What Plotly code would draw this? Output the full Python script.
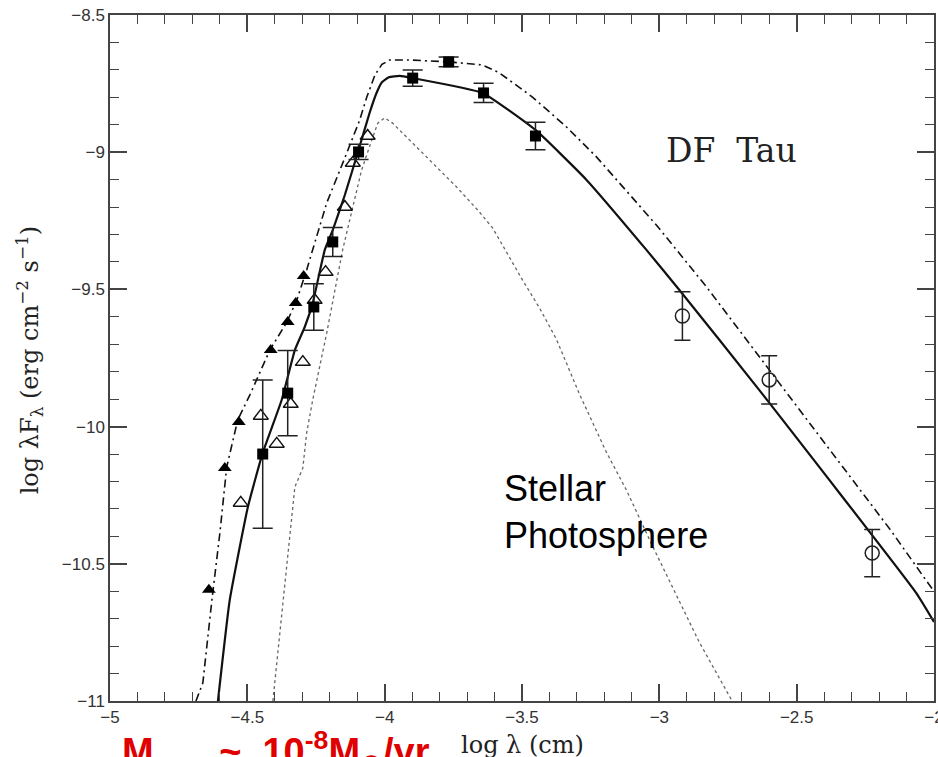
import plotly.graph_objects as go

# ---- model curves (log lambda [cm], log lambda F_lambda) ----
disk_x = [-4.607, -4.564, -4.498, -4.444, -4.375, -4.327, -4.291, -4.262, -4.218, -4.189,
          -4.145, -4.095, -4.055, -4.030, -4.010, -3.985, -3.945, -3.898, -3.644, -3.451,
          -3.265, -3.047, -2.927, -2.636, -2.065, -2.0]
disk_y = [-11.0, -10.632, -10.293, -10.096, -9.903, -9.721, -9.637, -9.550, -9.356, -9.284,
          -9.156, -8.992, -8.857, -8.785, -8.745, -8.727, -8.722, -8.730, -8.784, -8.919,
          -9.101, -9.356, -9.502, -9.867, -10.606, -10.712]

alt_x = [-4.687, -4.662, -4.629, -4.600, -4.575, -4.535, -4.491, -4.418, -4.356, -4.320,
         -4.284, -4.211, -4.138, -4.091, -4.065, -4.035, -4.010, -3.982, -3.909, -3.764,
         -3.644, -3.582, -3.462, -3.338, -3.229, -3.156, -3.011, -2.829, -2.647, -2.444,
         -2.156, -2.029, -2.0]
alt_y = [-11.0, -10.934, -10.632, -10.388, -10.147, -9.976, -9.885, -9.721, -9.619, -9.539,
         -9.429, -9.185, -9.003, -8.883, -8.799, -8.718, -8.680, -8.664, -8.664, -8.671,
         -8.682, -8.711, -8.799, -8.908, -9.017, -9.101, -9.265, -9.490, -9.730, -10.000,
         -10.380, -10.560, -10.600]

star_x = [-4.407, -4.382, -4.345, -4.327, -4.298, -4.284, -4.262, -4.211, -4.153, -4.127,
          -4.084, -4.047, -4.025, -4.0, -3.971, -3.909, -3.825, -3.738, -3.655, -3.607,
          -3.498, -3.436, -3.375, -3.291, -3.193, -3.120, -3.025, -2.953, -2.855, -2.735]
star_y = [-11.0, -10.752, -10.388, -10.220, -10.151, -10.023, -9.903, -9.659, -9.356, -9.247,
          -9.065, -8.956, -8.894, -8.875, -8.894, -8.956, -9.039, -9.127, -9.218, -9.276,
          -9.466, -9.568, -9.681, -9.881, -10.093, -10.231, -10.435, -10.585, -10.785, -11.0]

# ---- photometry ----
tri_fill_x = [-4.295, -4.324, -4.353, -4.415, -4.531, -4.582, -4.640]
tri_fill_y = [-9.451, -9.550, -9.619, -9.721, -9.983, -10.151, -10.595]

tri_open_x = [-4.062, -4.116, -4.145, -4.215, -4.255, -4.298, -4.342, -4.393, -4.451, -4.524]
tri_open_y = [-8.941, -9.039, -9.200, -9.437, -9.539, -9.765, -9.918, -10.063, -9.961, -10.278]

sq_x = [-4.444, -4.353, -4.258, -4.189, -4.095, -3.898, -3.767, -3.640, -3.451]
sq_y = [-10.100, -9.878, -9.564, -9.327, -8.999, -8.730, -8.671, -8.784, -8.941]
sq_err = [0.27, 0.155, 0.085, 0.053, 0.028, 0.03, 0.018, 0.035, 0.05]

circ_x = [-2.916, -2.600, -2.225]
circ_y = [-9.597, -9.830, -10.461]
circ_err = [0.088, 0.088, 0.086]

x_range = [-5, -2]
y_range = [-11, -8.5]

fig = go.Figure()

fig.add_trace(go.Scatter(x=star_x, y=star_y, mode="lines",
                         line=dict(color="#666666", width=1.3, dash="dot")))
fig.add_trace(go.Scatter(x=alt_x, y=alt_y, mode="lines",
                         line=dict(color="#111111", width=1.6, dash="8px,4px,2px,4px")))
fig.add_trace(go.Scatter(x=disk_x, y=disk_y, mode="lines", line_shape="spline",
                         line=dict(color="#111111", width=2.2, smoothing=0.4)))

fig.add_trace(go.Scatter(x=tri_fill_x, y=tri_fill_y, mode="markers",
                         marker=dict(symbol="triangle-up", size=12, color="#000000")))
fig.add_trace(go.Scatter(x=tri_open_x, y=tri_open_y, mode="markers",
                         marker=dict(symbol="triangle-up-open", size=13, color="#111111",
                                     line=dict(width=1.5))))
fig.add_trace(go.Scatter(x=sq_x, y=sq_y, mode="markers",
                         marker=dict(symbol="square", size=11, color="#000000"),
                         error_y=dict(type="data", array=sq_err, visible=True,
                                      color="#222222", thickness=1.5, width=10)))
fig.add_trace(go.Scatter(x=circ_x, y=circ_y, mode="markers",
                         marker=dict(symbol="circle-open", size=14, color="#222222",
                                     line=dict(width=1.5)),
                         error_y=dict(type="data", array=circ_err, visible=True,
                                      color="#222222", thickness=1.5, width=8)))

axis_style = dict(
    showgrid=False, zeroline=False, automargin=False,
    showline=True, linecolor="#444444", linewidth=1.5, mirror="allticks",
    ticks="inside", ticklen=17, tickwidth=1.5, tickcolor="#444444",
    tickmode="linear", dtick=0.5,
    minor=dict(ticks="inside", ticklen=9, tickwidth=1.2, tickcolor="#444444",
               dtick=0.1, showgrid=False),
    tickfont=dict(family="Liberation Sans, Arial, sans-serif", size=17, color="#333333"),
    ticklabeloverflow="allow",
)

fig.update_layout(
    template="none",
    xaxis=dict(range=x_range, tick0=-5, **axis_style),
    yaxis=dict(range=y_range, tick0=-11, **axis_style),
)

nb = "\u00a0"
fig.add_annotation(xref="paper", yref="paper", x=0.5, y=-0.064,
                   text=f"log{nb}λ{nb}(cm)",
                   showarrow=False, xanchor="center", yanchor="middle",
                   font=dict(family="DejaVu Serif, serif", size=24, color="#222222"))
fig.add_annotation(xref="paper", yref="paper", x=-0.098, y=0.497,
                   text=f"log{nb}λF<sub>λ</sub>{nb}(erg{nb}cm<sup>−2</sup>{nb}s<sup>−1</sup>)",
                   textangle=-90, showarrow=False, xanchor="center", yanchor="middle",
                   font=dict(family="DejaVu Serif, serif", size=24, color="#222222"))

fig.add_annotation(xref="paper", yref="paper", x=0.754, y=0.803, text=f"DF{nb}{nb}Tau",
                   showarrow=False, xanchor="center", yanchor="middle",
                   font=dict(family="DejaVu Serif, serif", size=33, color="#222222"))
fig.add_annotation(xref="paper", yref="paper", x=0.476, y=0.3426,
                   text="Stellar<br>Photosphere", align="left",
                   showarrow=False, xanchor="left", yanchor="top",
                   font=dict(family="Liberation Sans, Arial, sans-serif", size=36,
                             color="#000000"))
fig.add_annotation(xref="paper", yref="paper", x=0.012, y=-0.032,
                   text=f"M<sub>acc</sub>{nb}{nb}~{nb}{nb}10<sup>-8</sup>M<sub>⊙</sub>/yr",
                   showarrow=False, xanchor="left", yanchor="top",
                   font=dict(family="Liberation Sans, Arial, sans-serif", size=38,
                             color="#e00000", weight="bold"))

fig.update_layout(
    width=938, height=757,
    margin=dict(l=110, r=4, t=15, b=56),
    paper_bgcolor="white", plot_bgcolor="white",
    showlegend=False,
)

fig.write_html("out.html")
